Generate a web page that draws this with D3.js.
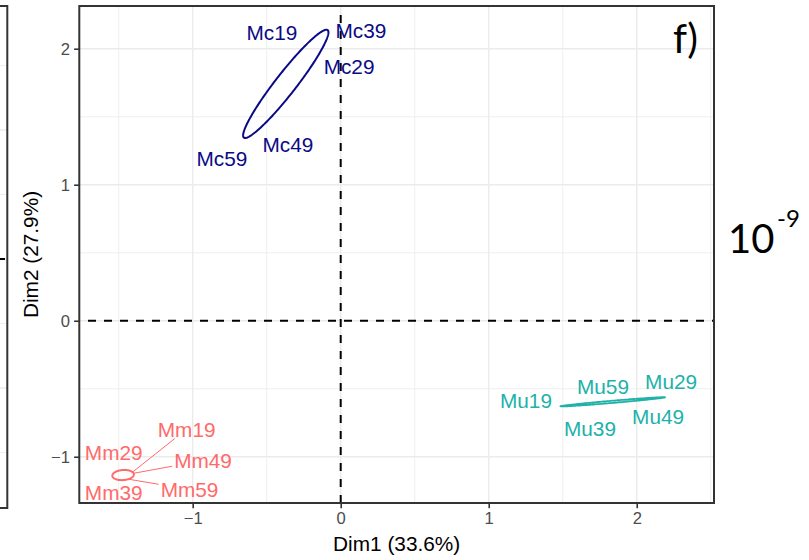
<!DOCTYPE html>
<html>
<head>
<meta charset="utf-8">
<script src="https://cdn.jsdelivr.net/npm/d3@7"></script>
<style>
  html, body { margin: 0; padding: 0; background: #ffffff; }
  svg { display: block; }
</style>
</head>
<body>
<svg id="chart" width="809" height="560"></svg>
<script>
// ---- data -------------------------------------------------------------
const groups = ["Mc", "Mm", "Mu"];
const groupColors = ["#0a0a86", "#ff6a6a", "#20b2aa"];

// sample coordinates on the first two dimensions
const sampleNames = ["Mc19", "Mc29", "Mc39", "Mc49", "Mc59",
                     "Mm19", "Mm29", "Mm39", "Mm49", "Mm59",
                     "Mu19", "Mu29", "Mu39", "Mu49", "Mu59"];
const sampleGroup = ["Mc", "Mc", "Mc", "Mc", "Mc",
                     "Mm", "Mm", "Mm", "Mm", "Mm",
                     "Mu", "Mu", "Mu", "Mu", "Mu"];
const dim1 = [-0.221, -0.180, -0.086, -0.532, -0.640,
              -1.412, -1.511, -1.511, -1.401, -1.428,
               1.495,  2.205,  1.684,  2.124,  1.772];
const dim2 = [ 2.035,  1.917,  2.116,  1.417,  1.351,
              -1.118, -1.112, -1.157, -1.122, -1.166,
              -0.631, -0.568, -0.616, -0.579, -0.607];

// group ellipses (centre, semi-axes, rotation in degrees)
const ellipseCx = [-0.371, -1.470, 1.838];
const ellipseCy = [ 1.7415, -1.1346, -0.596];
const ellipseRx = [ 0.486, 0.073, 0.3546];
const ellipseRy = [ 0.072, 0.037, 0.008];
const ellipseAngle = [54.5, 5, 5.34];

// axis ticks and titles
const xTicks = [-1, 0, 1, 2];
const yTicks = [-1, 0, 1, 2];
const xTitle = "Dim1 (33.6%)";
const yTitle = "Dim2 (27.9%)";

// ---- layout -----------------------------------------------------------
const panel = { left: 79.3, right: 714, top: 6, bottom: 503 };
const xDomain = [-1.766, 2.522];
const yDomain = [-1.340, 2.314];
// repelled label placement, pixel shift from each sample
const labelShift = [[-36, -11], [35, 7], [33, -2], [26, 16.5], [-24, 22],
                    [55, -43.7], [-3.3, -19.5], [-3.3, 14.5], [69.7, -12.8], [60.2, 10.2],
                    [-36, -6.5], [4, -16], [0, 24.5], [3, 17], [0, -16.3]];

const labelSize = 20.8;
const tickSize = 16.6;
const sansFont = "'Liberation Sans', Arial, Helvetica, sans-serif";

const svg = d3.select("#chart");
svg.append("rect").attr("width", 809).attr("height", 560).attr("fill", "#ffffff");

const x = d3.scaleLinear().domain(xDomain).range([panel.left, panel.right]);
const y = d3.scaleLinear().domain(yDomain).range([panel.bottom, panel.top]);
const color = d3.scaleOrdinal().domain(groups).range(groupColors);

// ---- neighbouring panel edge on the far left ---------------------------
const leftPanel = { right: 7.3, top: 6, bottom: 508 };
const yLeft = d3.scaleLinear().domain([-1.93, 1.961]).range([leftPanel.bottom, leftPanel.top]);
const gLeft = svg.append("g");
gLeft.selectAll("line.grid")
  .data(d3.range(-1.5, 2.0, 0.5))
  .join("line")
  .attr("x1", 0).attr("x2", leftPanel.right)
  .attr("y1", d => yLeft(d)).attr("y2", d => yLeft(d))
  .attr("stroke", "#ebebeb")
  .attr("stroke-width", d => Number.isInteger(d) ? 1.4 : 0.8);
gLeft.append("line")
  .attr("x1", 0).attr("x2", leftPanel.right)
  .attr("y1", yLeft(0)).attr("y2", yLeft(0))
  .attr("stroke", "#000").attr("stroke-width", 2)
  .attr("stroke-dasharray", "5,8");
gLeft.append("path")
  .attr("d", `M0,${leftPanel.top}H${leftPanel.right}V${leftPanel.bottom}H0`)
  .attr("fill", "none").attr("stroke", "#333333").attr("stroke-width", 2);

// ---- main panel grid --------------------------------------------------
const g = svg.append("g");
const xMinor = d3.range(xTicks[0] - 0.5, xDomain[1], 1).filter(v => v > xDomain[0] && v < xDomain[1]);
const yMinor = d3.range(yTicks[0] - 0.5, yDomain[1], 1).filter(v => v > yDomain[0] && v < yDomain[1]);

g.selectAll("line.xminor").data(xMinor).join("line")
  .attr("x1", d => x(d)).attr("x2", d => x(d))
  .attr("y1", panel.top).attr("y2", panel.bottom)
  .attr("stroke", "#ebebeb").attr("stroke-width", 0.8);
g.selectAll("line.yminor").data(yMinor).join("line")
  .attr("y1", d => y(d)).attr("y2", d => y(d))
  .attr("x1", panel.left).attr("x2", panel.right)
  .attr("stroke", "#ebebeb").attr("stroke-width", 0.8);
g.selectAll("line.xmajor").data(xTicks).join("line")
  .attr("x1", d => x(d)).attr("x2", d => x(d))
  .attr("y1", panel.top).attr("y2", panel.bottom)
  .attr("stroke", "#ebebeb").attr("stroke-width", 1.4);
g.selectAll("line.ymajor").data(yTicks).join("line")
  .attr("y1", d => y(d)).attr("y2", d => y(d))
  .attr("x1", panel.left).attr("x2", panel.right)
  .attr("stroke", "#ebebeb").attr("stroke-width", 1.4);

// reference lines through the origin
g.append("line")
  .attr("x1", panel.left).attr("x2", panel.right)
  .attr("y1", y(0)).attr("y2", y(0))
  .attr("stroke", "#000").attr("stroke-width", 2)
  .attr("stroke-dasharray", "8,8").attr("stroke-dashoffset", 7.3);
g.append("line")
  .attr("x1", x(0)).attr("x2", x(0))
  .attr("y1", panel.bottom).attr("y2", panel.top)
  .attr("stroke", "#000").attr("stroke-width", 2)
  .attr("stroke-dasharray", "8,8");

// ---- ellipses ---------------------------------------------------------
const ellipseLine = d3.line().x(p => x(p[0])).y(p => y(p[1])).curve(d3.curveLinearClosed);
const steps = d3.range(0, 2 * Math.PI, Math.PI / 90);
groups.forEach((grp, i) => {
  const a = ellipseAngle[i] * Math.PI / 180;
  const pts = steps.map(t => [
    ellipseCx[i] + ellipseRx[i] * Math.cos(t) * Math.cos(a) - ellipseRy[i] * Math.sin(t) * Math.sin(a),
    ellipseCy[i] + ellipseRx[i] * Math.cos(t) * Math.sin(a) + ellipseRy[i] * Math.sin(t) * Math.cos(a)
  ]);
  g.append("path")
    .attr("d", ellipseLine(pts))
    .attr("fill", "none")
    .attr("stroke", color(grp))
    .attr("stroke-width", i === 2 ? 1.8 : 2);
});

// ---- sample labels with leader segments --------------------------------
const capHalf = 0.358 * labelSize;
const samples = sampleNames.map((name, i) => ({
  name, group: sampleGroup[i], px: x(dim1[i]), py: y(dim2[i]),
  lx: x(dim1[i]) + labelShift[i][0], ly: y(dim2[i]) + labelShift[i][1]
}));

const segLayer = g.append("g");
const labels = g.append("g").selectAll("text").data(samples).join("text")
  .attr("x", d => d.lx).attr("y", d => d.ly + capHalf)
  .attr("text-anchor", "middle")
  .attr("font-family", sansFont)
  .attr("font-size", labelSize)
  .attr("fill", d => color(d.group))
  .text(d => d.name);

labels.each(function (d) {
  const bb = this.getBBox();
  const pad = 2;
  const x0 = bb.x - pad, x1 = bb.x + bb.width + pad;
  const y0 = d.ly - capHalf - pad, y1 = d.ly + capHalf + pad;
  const dx = d.lx - d.px, dy = d.ly - d.py;
  // first point where the line towards the label centre meets the label box
  let t = 1;
  if (dx !== 0) {
    const tx = dx > 0 ? (x0 - d.px) / dx : (x1 - d.px) / dx;
    const yy = d.py + tx * dy;
    if (tx >= 0 && tx <= 1 && yy >= y0 && yy <= y1) t = Math.min(t, tx);
  }
  if (dy !== 0) {
    const ty = dy > 0 ? (y0 - d.py) / dy : (y1 - d.py) / dy;
    const xx = d.px + ty * dx;
    if (ty >= 0 && ty <= 1 && xx >= x0 && xx <= x1) t = Math.min(t, ty);
  }
  const len = t * Math.hypot(dx, dy);
  if (len > 24) {
    segLayer.append("line")
      .attr("x1", d.px).attr("y1", d.py)
      .attr("x2", d.px + t * dx).attr("y2", d.py + t * dy)
      .attr("stroke", color(d.group)).attr("stroke-width", 1);
  }
});

// ---- panel border and axes -------------------------------------------
svg.append("rect")
  .attr("x", panel.left).attr("y", panel.top)
  .attr("width", panel.right - panel.left).attr("height", panel.bottom - panel.top)
  .attr("fill", "none").attr("stroke", "#333333").attr("stroke-width", 2);

const tickFmt = d => d < 0 ? "\u2212" + Math.abs(d) : String(d);

const xAxis = svg.append("g")
  .attr("transform", `translate(0,${panel.bottom})`)
  .call(d3.axisBottom(x).tickValues(xTicks).tickSize(5.2).tickPadding(4.2).tickFormat(tickFmt));
const yAxis = svg.append("g")
  .attr("transform", `translate(${panel.left},0)`)
  .call(d3.axisLeft(y).tickValues(yTicks).tickSize(5.2).tickPadding(4.2).tickFormat(tickFmt));

[xAxis, yAxis].forEach(ax => {
  ax.select(".domain").remove();
  ax.selectAll(".tick line").attr("stroke", "#333333").attr("stroke-width", 1.6);
  ax.selectAll(".tick text")
    .attr("font-family", sansFont)
    .attr("font-size", tickSize)
    .attr("fill", "#4d4d4d");
});
xAxis.selectAll(".tick text").attr("dy", null).attr("y", 5.2 + 4.2 + 0.716 * tickSize);
yAxis.selectAll(".tick text").attr("dy", null).attr("y", 0.358 * tickSize);

svg.append("text")
  .attr("x", (panel.left + panel.right) / 2).attr("y", 551)
  .attr("text-anchor", "middle")
  .attr("font-family", sansFont).attr("font-size", labelSize)
  .attr("fill", "#000")
  .text(xTitle);
svg.append("text")
  .attr("transform", `translate(37.8,${(panel.top + panel.bottom) / 2}) rotate(-90)`)
  .attr("text-anchor", "middle")
  .attr("font-family", sansFont).attr("font-size", labelSize)
  .attr("fill", "#000")
  .text(yTitle);

// ---- panel tag and scale note -----------------------------------------
const tagFont = "Lato, 'Open Sans', sans-serif";
svg.append("text")
  .attr("x", 673).attr("y", 52.7)
  .attr("font-family", tagFont).attr("font-size", 40)
  .attr("fill", "#000").text("f)");
svg.append("text")
  .attr("x", 728).attr("y", 252.7)
  .attr("font-family", tagFont).attr("font-size", 40)
  .attr("fill", "#000").text("10");
svg.append("text")
  .attr("x", 777).attr("y", 226.7)
  .attr("font-family", tagFont).attr("font-size", 24)
  .attr("fill", "#000").text("-9");
</script>
</body>
</html>
